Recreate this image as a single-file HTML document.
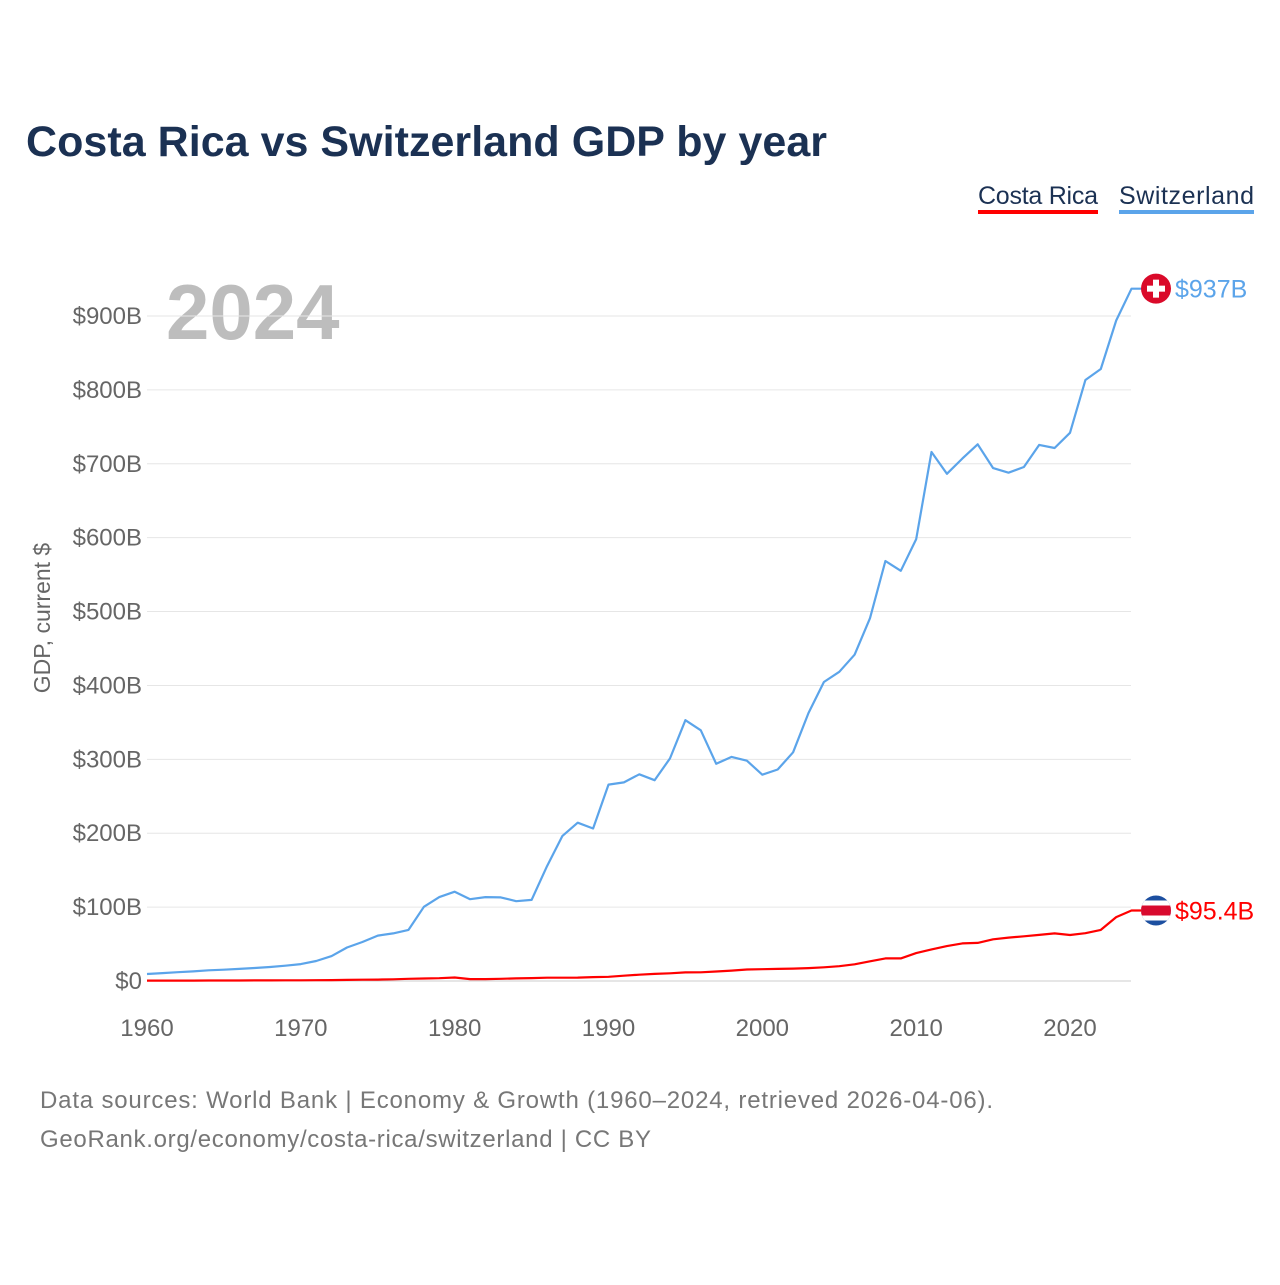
<!DOCTYPE html>
<html><head><meta charset="utf-8"><style>
body{margin:0;background:#fff;width:1280px;height:1280px;overflow:hidden;font-family:"Liberation Sans",sans-serif}
</style></head><body>
<svg width="1280" height="1280" xmlns="http://www.w3.org/2000/svg">
<text x="26" y="156" font-size="43" font-weight="bold" fill="#1b3153" textLength="801">Costa Rica vs Switzerland GDP by year</text>
<g>
<text x="978" y="204" font-size="25" fill="#1b3153" textLength="120">Costa Rica</text>
<rect x="978" y="210" width="120" height="4" fill="#ff0000"/>
<text x="1119" y="204" font-size="25" fill="#1b3153" textLength="135">Switzerland</text>
<rect x="1119" y="210" width="135" height="4" fill="#5ba4ea"/>
</g>
<text x="166" y="339" font-size="78" font-weight="bold" fill="#bdbdbd">2024</text>
<g id="grid"></g><g id="yticks"></g><g id="xticks"></g>
<text transform="translate(50,618) rotate(-90)" text-anchor="middle" font-size="23" fill="#666">GDP, current $</text>
<g id="lines"></g>
<text x="40" y="1108" font-size="24" fill="#777" textLength="953">Data sources: World Bank | Economy &amp; Growth (1960–2024, retrieved 2026-04-06).</text>
<text x="40" y="1147" font-size="24" fill="#777" textLength="611">GeoRank.org/economy/costa-rica/switzerland | CC BY</text>
</svg>
<script>
const years=[];for(let y=1960;y<=2024;y++)years.push(y);
const switzerland=[9.5,10.7,11.9,13.0,14.5,15.3,16.4,17.6,18.9,20.7,22.9,27.1,33.7,45.4,52.8,61.5,64.4,69.2,100.4,113.6,120.8,110.7,113.5,113.2,108.0,109.7,155.4,196.1,214.2,206.4,265.8,268.8,279.8,271.8,301.3,352.9,339.3,293.9,303.3,298.1,279.2,286.2,309.5,362.7,404.7,418.5,441.6,491.0,568.4,555.2,598.0,715.9,686.4,707.0,726.4,694.1,687.9,695.6,725.6,721.4,741.9,813.4,828.2,893.9,937];
const costaRica=[0.5,0.5,0.55,0.6,0.62,0.67,0.72,0.79,0.85,0.93,0.98,1.08,1.24,1.55,1.73,1.92,2.3,2.92,3.4,3.85,4.8,2.6,2.6,3.0,3.5,3.9,4.4,4.5,4.6,5.3,5.7,7.2,8.5,9.6,10.4,11.7,11.8,12.8,14.1,15.6,16.0,16.4,16.8,17.5,18.6,20.0,22.6,26.7,30.6,30.6,37.7,42.8,47.2,50.9,51.6,56.4,58.8,60.5,62.4,64.4,62.2,64.7,69.2,86.5,95.4];
const yTicks=[0,100,200,300,400,500,600,700,800,900];
const yTickLabels=["$0","$100B","$200B","$300B","$400B","$500B","$600B","$700B","$800B","$900B"];
const xTicks=[1960,1970,1980,1990,2000,2010,2020];
const NS="http://www.w3.org/2000/svg";
const X=y=>147+(y-1960)*(923/60);
const Y=v=>981-v*0.7389;
function mk(t,a,p){const e=document.createElementNS(NS,t);for(const k in a)e.setAttribute(k,a[k]);document.getElementById(p).appendChild(e);return e;}
yTicks.forEach((v,i)=>{
 const l=mk('line',{x1:147,x2:1131,y1:Y(v),y2:Y(v),stroke:v===0?'#ccc':'#e6e6e6','stroke-width':1},'grid');
 
 
 const t=mk('text',{x:142,y:Y(v)+8,'text-anchor':'end','font-size':24,fill:'#666'},'yticks');
 t.textContent=yTickLabels[i];
 
 
});
xTicks.forEach(v=>{
 const t=mk('text',{x:X(v),y:1036,'text-anchor':'middle','font-size':24,fill:'#666'},'xticks');
 t.textContent=v;
 
 
});
function series(vals,color,name){
 const pts=vals.map((v,i)=>X(years[i]).toFixed(1)+','+Y(v).toFixed(1));
 const last=vals[vals.length-1];
 pts.push((X(2024)+10).toFixed(1)+','+Y(last).toFixed(1));
 const p=mk('polyline',{points:pts.join(' '),fill:'none',stroke:color,'stroke-width':2.2,'stroke-linejoin':'round'},'lines');
 
 
 return Y(last);
}
const ys=series(switzerland,'#5ba4ea','switzerland');
const yc=series(costaRica,'#ff0000','costa-rica');
const fs=mk('g',{},'lines');


fs.innerHTML=`<circle cx="1156" cy="${ys}" r="15" fill="#da0a2a"/><rect x="1153" y="${ys-9}" width="6" height="18" fill="#fff"/><rect x="1147" y="${ys-3}" width="18" height="6" fill="#fff"/>`;
const tsw=mk('text',{x:1175,y:ys+9,'font-size':25,fill:'#5ba4ea'},'lines');
tsw.textContent='$937B';


const fc=mk('g',{},'lines');


fc.innerHTML=`<defs><clipPath id="cc"><circle cx="1156" cy="${yc}" r="15"/></clipPath></defs><g clip-path="url(#cc)"><rect x="1140" y="${yc-15}" width="32" height="30" fill="#1c4fa0"/><rect x="1140" y="${yc-10}" width="32" height="20" fill="#fff"/><rect x="1140" y="${yc-5}" width="32" height="10" fill="#d80a2e"/></g>`;
const tcr=mk('text',{x:1175,y:yc+9,'font-size':25,fill:'#ff0000'},'lines');
tcr.textContent='$95.4B';


</script>
</body></html>
